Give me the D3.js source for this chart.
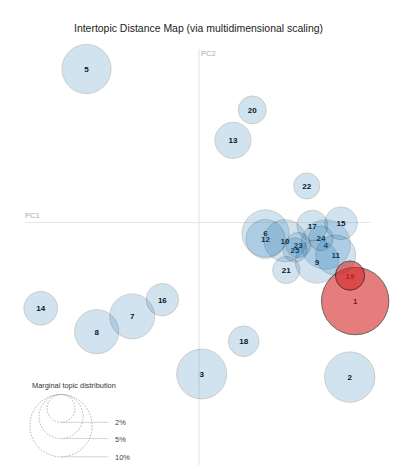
<!DOCTYPE html>
<html><head><meta charset="utf-8">
<script src="https://cdn.jsdelivr.net/npm/d3@7"></script>
<style>body{margin:0;background:#fff;} svg{display:block;font-family:"Liberation Sans",Arial,sans-serif;}</style>
</head><body>
<svg id="chart" width="400" height="465"></svg>
<script>
const topics = [1,2,3,4,5,6,7,8,9,10,11,12,13,14,15,16,17,18,19,20,21,22,23,24,25];
const pc1 = [0.1122,0.1083,0.0019,0.0910,-0.0808,0.0478,-0.0480,-0.0735,0.0847,0.0618,0.0982,0.0478,0.0244,-0.1137,0.1020,-0.0263,0.0814,0.0321,0.1085,0.0383,0.0627,0.0774,0.0713,0.0876,0.0690];
const pc2 = [-0.0568,-0.1114,-0.1092,-0.0162,0.1099,-0.0082,-0.0678,-0.0788,-0.0284,-0.0134,-0.0237,-0.0122,0.0587,-0.0620,-0.0009,-0.0558,-0.0026,-0.0857,-0.0385,0.0805,-0.0345,0.0259,-0.0165,-0.0117,-0.0201];
const freq = [11.7,6.5,6.4,6.3,6.2,5.7,5.2,5.0,4.8,4.55,4.1,3.9,3.35,2.9,2.75,2.7,2.45,2.4,2.2,2.0,1.9,1.75,1.6,1.55,1.5];
const selected = [1,19];
const legendPcts = [2,5,10];
const legendLabels = ["2%","5%","10%"];

const svg = d3.select("#chart");
const x = d3.scaleLinear().domain([-0.125,0.125]).range([25,373]);
const y = d3.scaleLinear().domain([-0.125,0.125]).range([396,48]);
const r = d3.scaleSqrt().domain([0,100]).range([0,98.5]);

svg.append("text").attr("x",198.5).attr("y",31.5).attr("text-anchor","middle")
  .attr("font-size",11.3).attr("fill","#222")
  .attr("textLength",249).attr("lengthAdjust","spacingAndGlyphs")
  .text("Intertopic Distance Map (via multidimensional scaling)");

// axes
svg.append("line").attr("x1",x(-0.125)).attr("x2",370.5).attr("y1",y(0)+0.5).attr("y2",y(0)+0.5)
  .attr("stroke","#e6e6e6").attr("stroke-width",1.2);
svg.append("line").attr("x1",x(0)).attr("x2",x(0)).attr("y1",49).attr("y2",465)
  .attr("stroke","#e6e6e6").attr("stroke-width",1.2);
svg.append("text").attr("x",x(-0.125)).attr("y",y(0)-4).attr("font-size",7.5).attr("fill","#aaa").text("PC1");
svg.append("text").attr("x",x(0)+2).attr("y",56).attr("font-size",7.5).attr("fill","#aaa").text("PC2");

const data = topics.map((t,i)=>({t, x:pc1[i], y:pc2[i], f:freq[i], sel:selected.includes(t)}));

// labels first, circles over them
svg.append("g").selectAll("text").data(data).join("text")
  .attr("x",d=>x(d.x)).attr("y",d=>y(d.y)+3)
  .attr("text-anchor","middle").attr("font-size",8).attr("font-weight","bold")
  .attr("fill","#000").text(d=>d.t);

svg.append("g").selectAll("circle").data(data).join("circle")
  .attr("cx",d=>x(d.x)).attr("cy",d=>y(d.y)).attr("r",d=>r(d.f))
  .attr("fill",d=>d.sel?"#d62728":"#1f77b4")
  .attr("stroke","#000")
  .attr("opacity",d=>d.sel?0.6:0.2);

// legend
const lg = svg.append("g");
const legCx = 61, legTop = 394.5;
lg.append("text").attr("x",32).attr("y",388.3).attr("font-size",7.4).attr("fill","#333").text("Marginal topic distribution");
legendPcts.forEach((p,i)=>{
  const rr = r(p);
  lg.append("circle").attr("cx",legCx).attr("cy",legTop+rr).attr("r",rr)
    .attr("fill","none").attr("stroke","#999").attr("stroke-dasharray","1.5 1.5").attr("stroke-width",0.8);
  lg.append("line").attr("x1",legCx).attr("x2",108.5).attr("y1",legTop+2*rr).attr("y2",legTop+2*rr)
    .attr("stroke","#ccc").attr("stroke-width",0.8);
  lg.append("text").attr("x",115).attr("y",legTop+2*rr+3).attr("font-size",7.5).attr("fill","#444").text(legendLabels[i]);
});
</script>
</body></html>
